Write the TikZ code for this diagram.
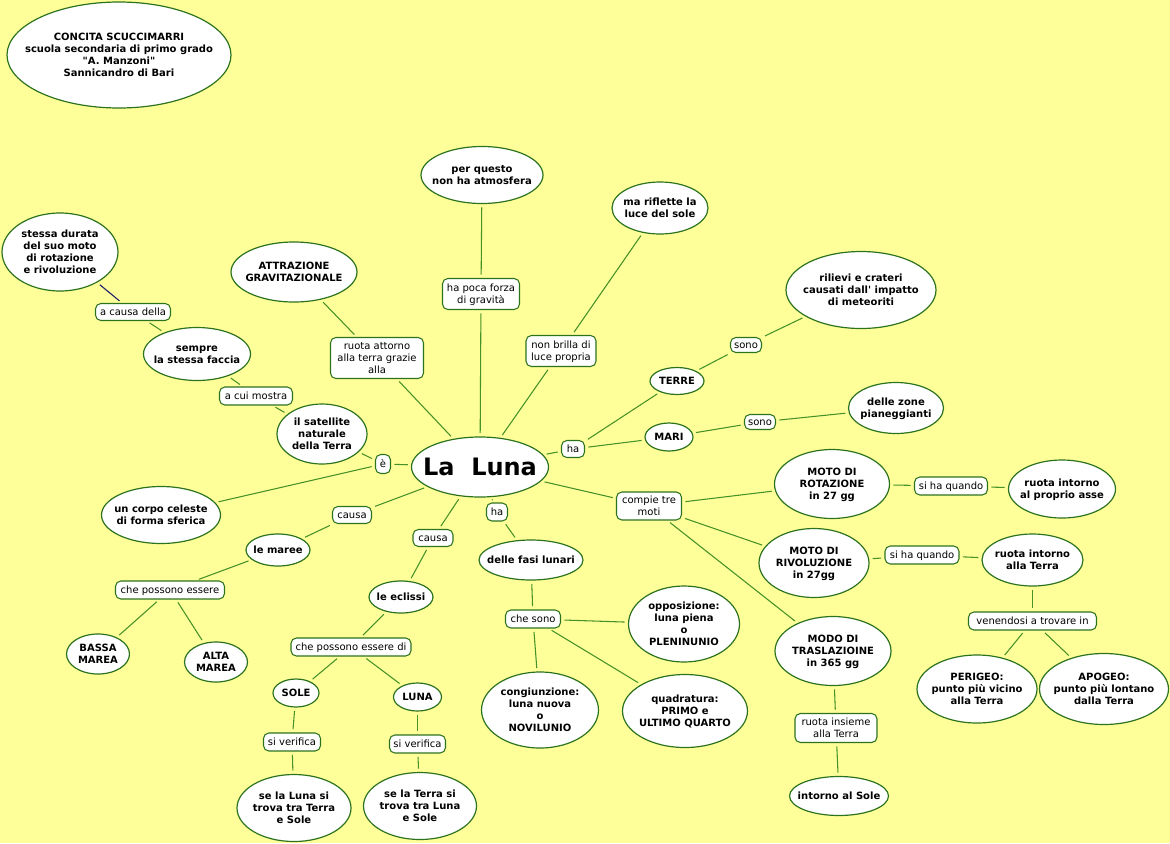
\documentclass[tikz,border=0pt]{standalone}
\usepackage{fontspec}
\setmainfont{DejaVu Sans}[Ligatures=TeXOff]
\usetikzlibrary{shapes.geometric}
\definecolor{bg}{RGB}{255,255,153}
\definecolor{bord}{RGB}{45,115,30}
\definecolor{ln}{RGB}{70,145,40}
\definecolor{navy}{RGB}{25,25,110}
\newcommand\bt[1]{\smash{\makebox[0pt]{\raisebox{-2.7pt}{\fontsize{7.5}{9}\selectfont\bfseries\begin{tabular}{@{}c@{}}#1\end{tabular}}}}}
\newcommand\rt[1]{\smash{\makebox[0pt]{\raisebox{-2.7pt}{\fontsize{7.5}{9}\selectfont\begin{tabular}{@{}c@{}}#1\end{tabular}}}}}
\tikzset{
  E/.style={ellipse, draw=bord, fill=white, line width=0.9pt, inner sep=0pt},
  L/.style={rectangle, rounded corners=4pt, draw=bord, fill=white, line width=0.8pt, inner sep=0pt},
  sz/.style 2 args={minimum width=#1*0.75pt, minimum height=#2*0.75pt},
  cn/.style={draw=ln, line width=0.8pt, shorten <=2.5pt, shorten >=2.5pt},
}
\begin{document}
\begin{tikzpicture}[x=0.75pt,y=-0.75pt]
\fill[bg] (0,0) rectangle (1170,843);
\useasboundingbox (0,0) rectangle (1170,843);

% concepts
\node[E,sz={224}{106}] (auth) at (119,55) {\bt{CONCITA SCUCCIMARRI\\scuola secondaria di primo grado\\"A. Manzoni"\\Sannicandro di Bari}};
\node[E,sz={116}{78}] (stessa) at (60,252) {\bt{stessa durata\\del suo moto\\di rotazione\\e rivoluzione}};
\node[E,sz={126}{60}] (attr) at (294,272) {\bt{ATTRAZIONE\\GRAVITAZIONALE}};
\node[E,sz={122}{57}] (perq) at (482,175) {\bt{per questo\\non ha atmosfera}};
\node[E,sz={96}{52}] (rifl) at (660,208) {\bt{ma riflette la\\luce del sole}};
\node[E,sz={150}{77}] (riliev) at (861,290) {\bt{rilievi e crateri\\causati dall' impatto\\di meteoriti}};
\node[E,sz={107}{53}] (sempre) at (197,354) {\bt{sempre\\la stessa faccia}};
\node[E,sz={90}{60}] (sat) at (322,434) {\bt{il satellite\\naturale\\della Terra}};
\node[E,sz={137}{60}] (luna) at (480,467) {\smash{\makebox[0pt]{\raisebox{-6pt}{\fontsize{18}{20}\selectfont\bfseries La\ \ Luna}}}};
\node[E,sz={54}{27}] (terre) at (677,381) {\bt{TERRE}};
\node[E,sz={48}{28}] (mari) at (669,437) {\bt{MARI}};
\node[E,sz={95}{51}] (zone) at (896,408) {\bt{delle zone\\pianeggianti}};
\node[E,sz={119}{57}] (corpo) at (161,515) {\bt{un corpo celeste\\di forma sferica}};
\node[E,sz={115}{69}] (rot) at (832,484) {\bt{MOTO DI\\ROTAZIONE\\in 27 gg}};
\node[E,sz={107}{58}] (asse) at (1062,489) {\bt{ruota intorno\\al proprio asse}};
\node[E,sz={110}{69}] (riv) at (814,563) {\bt{MOTO DI\\RIVOLUZIONE\\in 27gg}};
\node[E,sz={101}{52}] (rterra) at (1032.5,560) {\bt{ruota intorno\\alla Terra}};
\node[E,sz={64}{32}] (maree) at (278,550) {\bt{le maree}};
\node[E,sz={104}{40}] (fasi) at (531,560) {\bt{delle fasi lunari}};
\node[E,sz={64}{32}] (ecl) at (401,597) {\bt{le eclissi}};
\node[E,sz={111}{76}] (opp) at (684,624) {\bt{opposizione:\\luna piena\\o\\PLENINUNIO}};
\node[E,sz={63}{40}] (bassa) at (98,654) {\bt{BASSA\\MAREA}};
\node[E,sz={63}{40}] (alta) at (216,662) {\bt{ALTA\\MAREA}};
\node[E,sz={116}{69}] (tras) at (833,651) {\bt{MODO DI\\TRASLAZIOINE\\in 365 gg}};
\node[E,sz={46}{28}] (sole) at (296,693) {\bt{SOLE}};
\node[E,sz={48}{28}] (lunan) at (417.5,697) {\bt{LUNA}};
\node[E,sz={117}{76}] (cong) at (540,710) {\bt{congiunzione:\\luna nuova\\o\\NOVILUNIO}};
\node[E,sz={125}{73}] (quad) at (685,711) {\bt{quadratura:\\PRIMO e\\ULTIMO QUARTO}};
\node[E,sz={120}{68}] (peri) at (977,689) {\bt{PERIGEO:\\punto più vicino\\alla Terra}};
\node[E,sz={129}{71}] (apo) at (1104,689) {\bt{APOGEO:\\punto più lontano\\dalla Terra}};
\node[E,sz={114}{67}] (sel) at (294,808) {\bt{se la Luna si\\trova tra Terra\\e Sole}};
\node[E,sz={113}{67}] (set) at (420,806) {\bt{se la Terra si\\trova tra Luna\\e Sole}};
\node[E,sz={99}{39}] (isole) at (839,796) {\bt{intorno al Sole}};

% link labels
\node[L,sz={75}{17}] (acd) at (133,312) {\rt{a causa della}};
\node[L,sz={93}{41}] (rat) at (377,358) {\rt{ruota attorno\\alla terra grazie\\alla}};
\node[L,sz={77}{31}] (hpf) at (481,294) {\rt{ha poca forza\\di gravità}};
\node[L,sz={70}{31}] (nbl) at (561,351) {\rt{non brilla di\\luce propria}};
\node[L,sz={31}{15}] (sono1) at (746,345) {\rt{sono}};
\node[L,sz={73}{18}] (acm) at (256,396) {\rt{a cui mostra}};
\node[L,sz={15}{19}] (e) at (383,464) {\rt{è}};
\node[L,sz={23}{17}] (ha1) at (573,449) {\rt{ha}};
\node[L,sz={31}{15}] (sono2) at (760,422) {\rt{sono}};
\node[L,sz={65}{28}] (ctm) at (649,506) {\rt{compie tre\\moti}};
\node[L,sz={73}{18}] (shq1) at (951,486) {\rt{si ha quando}};
\node[L,sz={39}{17}] (causa1) at (352,515) {\rt{causa}};
\node[L,sz={21}{18}] (ha2) at (497,512) {\rt{ha}};
\node[L,sz={40}{17}] (causa2) at (433,538) {\rt{causa}};
\node[L,sz={74}{18}] (shq2) at (922,555) {\rt{si ha quando}};
\node[L,sz={109}{18}] (cpe) at (170,590) {\rt{che possono essere}};
\node[L,sz={55}{18}] (cs) at (533,619) {\rt{che sono}};
\node[L,sz={128}{18}] (vat) at (1032.5,621) {\rt{venendosi a trovare in}};
\node[L,sz={120}{18}] (cped) at (351,647) {\rt{che possono essere di}};
\node[L,sz={57}{18}] (sv1) at (292,742) {\rt{si verifica}};
\node[L,sz={56}{18}] (sv2) at (417.5,744) {\rt{si verifica}};
\node[L,sz={82}{29}] (rin) at (836,728) {\rt{ruota insieme\\alla Terra}};

% connectors
\draw[cn,draw=navy] (stessa) -- (acd);
\draw[cn] (acd) -- (sempre);
\draw[cn] (sempre) -- (acm);
\draw[cn] (acm) -- (sat);
\draw[cn] (sat) -- (e);
\draw[cn] (e) -- (luna);
\draw[cn] (e) -- (corpo);
\draw[cn] (attr) -- (rat);
\draw[cn] (rat) -- (luna);
\draw[cn] (perq) -- (hpf);
\draw[cn] (hpf) -- (luna);
\draw[cn] (rifl) -- (nbl);
\draw[cn] (nbl) -- (luna);
\draw[cn] (luna) -- (ha1);
\draw[cn] (ha1) -- (terre);
\draw[cn] (ha1) -- (mari);
\draw[cn] (terre) -- (sono1);
\draw[cn] (sono1) -- (riliev);
\draw[cn] (mari) -- (sono2);
\draw[cn] (sono2) -- (zone);
\draw[cn] (luna) -- (ctm);
\draw[cn] (ctm) -- (rot);
\draw[cn] (ctm) -- (riv);
\draw[cn] (ctm) -- (tras);
\draw[cn] (rot) -- (shq1);
\draw[cn] (shq1) -- (asse);
\draw[cn] (riv) -- (shq2);
\draw[cn] (shq2) -- (rterra);
\draw[cn] (rterra) -- (vat);
\draw[cn] (vat) -- (peri);
\draw[cn] (vat) -- (apo);
\draw[cn] (tras) -- (rin);
\draw[cn] (rin) -- (isole);
\draw[cn] (luna) -- (causa1);
\draw[cn] (causa1) -- (maree);
\draw[cn] (maree) -- (cpe);
\draw[cn] (cpe) -- (bassa);
\draw[cn] (cpe) -- (alta);
\draw[cn] (luna) -- (causa2);
\draw[cn] (causa2) -- (ecl);
\draw[cn] (ecl) -- (cped);
\draw[cn] (cped) -- (sole);
\draw[cn] (cped) -- (lunan);
\draw[cn] (sole) -- (sv1);
\draw[cn] (sv1) -- (sel);
\draw[cn] (lunan) -- (sv2);
\draw[cn] (sv2) -- (set);
\draw[cn] (luna) -- (ha2);
\draw[cn] (ha2) -- (fasi);
\draw[cn] (fasi) -- (cs);
\draw[cn] (cs) -- (opp);
\draw[cn] (cs) -- (cong);
\draw[cn] (cs) -- (quad);
\end{tikzpicture}
\end{document}
